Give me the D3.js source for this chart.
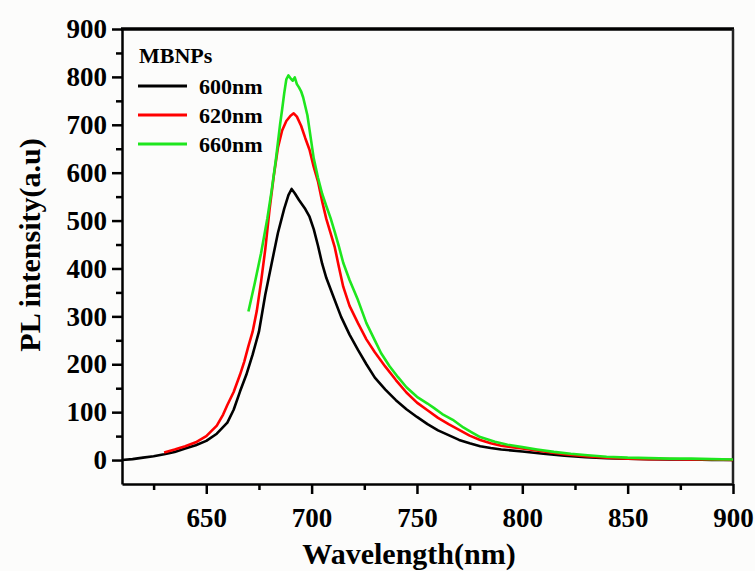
<!DOCTYPE html>
<html>
<head>
<meta charset="utf-8">
<script src="https://cdn.jsdelivr.net/npm/d3@7"></script>
<style>
  body { margin: 0; background: #fcfcfb; }
  text { font-family: "Liberation Serif", "Times New Roman", serif; font-weight: bold; }
</style>
</head>
<body>
<div id="chart"></div>
<script>
// PL spectra (wavelength nm, intensity a.u)
var wl600 = [610, 615, 620, 625, 630, 635, 640, 645, 650, 655, 660, 663, 666, 669, 672, 675, 678, 681, 684, 687, 689, 690.5, 692, 694, 697, 699, 701, 703, 705, 707, 710, 714, 718, 722, 726, 730, 735, 740, 745, 750, 755, 760, 765, 770, 775, 780, 785, 790, 800, 810, 820, 830, 840, 850, 860, 870, 880, 890, 900];
var pl600 = [0, 2, 5, 8, 12, 17, 24, 31, 40, 55, 78, 105, 143, 178, 220, 268, 345, 410, 474, 525, 553, 566, 557, 543, 524, 508, 482, 448, 410, 380, 345, 299, 262, 230, 200, 172, 147, 125, 106, 90, 75, 62, 52, 42, 35, 29, 25, 22, 18, 13, 9, 6, 4, 3, 2, 1, 1, 0, 0];

var wl620 = [630, 635, 640, 645, 650, 655, 658, 660, 663, 666, 668, 670, 672, 674, 676, 678, 680, 682, 684, 686, 688, 690, 691.5, 693, 695, 697, 699, 701, 703, 705, 707, 709, 711, 713, 715, 718, 722, 726, 730, 735, 740, 745, 750, 755, 760, 765, 770, 775, 780, 785, 790, 795, 800, 810, 820, 830, 840, 850, 860, 870, 880, 890, 900];
var pl620 = [16, 22, 29, 37, 50, 72, 95, 115, 142, 178, 205, 238, 268, 312, 372, 440, 522, 592, 652, 688, 708, 719, 724, 717, 698, 672, 648, 612, 582, 540, 503, 474, 444, 402, 362, 322, 286, 252, 225, 195, 167, 141, 120, 104, 88, 75, 63, 51, 42, 35, 30, 27, 24, 18, 12, 8, 5, 3, 2, 2, 1, 1, 0];

var wl660 = [670, 673, 676, 679, 681, 683, 685, 686, 687, 688, 689, 690, 691, 692, 693, 694, 695, 696, 698, 699, 701, 703, 705, 707, 709, 711, 713, 715, 718, 722, 726, 730, 733, 737, 741, 745, 750, 755, 758, 762, 767, 772, 776, 780, 787, 793, 800, 807, 815, 823, 831, 840, 850, 860, 870, 880, 890, 900];
var pl660 = [310, 369, 432, 505, 562, 626, 700, 732, 766, 795, 803, 797, 792, 799, 785, 778, 770, 757, 720, 690, 630, 590, 556, 530, 505, 476, 445, 412, 376, 334, 286, 250, 223, 196, 173, 152, 132, 118, 109, 96, 84, 68, 58, 48, 38, 32, 27, 22, 17, 13, 10, 7, 5, 4, 3, 3, 2, 1];

var seriesNames = ["600nm", "620nm", "660nm"];
var seriesColors = ["#000000", "#ff0000", "#1ee61e"];
var legendTitle = "MBNPs";

var xTicks = [650, 700, 750, 800, 850, 900];
var yTicks = [0, 100, 200, 300, 400, 500, 600, 700, 800, 900];

var svgWidth = 755;
var svgHeight = 571;

var margin = {
  top: 29,
  right: 22,
  bottom: 87,
  left: 122
};

var width = svgWidth - margin.left - margin.right;
var height = svgHeight - margin.top - margin.bottom;

var svg = d3.select("#chart")
  .append("svg")
  .attr("width", svgWidth)
  .attr("height", svgHeight);

var chartGroup = svg.append("g")
  .attr("transform", `translate(${margin.left}, ${margin.top})`);

var xLinearScale = d3.scaleLinear()
  .domain([610, 900])
  .range([0, width]);

var yLinearScale = d3.scaleLinear()
  .domain([-50, 900])
  .range([height, 0]);

// minor ticks first (no labels)
var xMinor = d3.range(625, 900, 50);
var yMinor = d3.range(-50, 900, 100).filter(d => d > -50);

chartGroup.append("g")
  .attr("transform", `translate(0, ${height})`)
  .call(d3.axisBottom(xLinearScale).tickValues(xMinor).tickSize(6).tickFormat(""))
  .call(g => g.select(".domain").remove())
  .call(g => g.selectAll("line").attr("stroke-width", 2.5));

chartGroup.append("g")
  .call(d3.axisLeft(yLinearScale).tickValues(yMinor).tickSize(6).tickFormat(""))
  .call(g => g.select(".domain").remove())
  .call(g => g.selectAll("line").attr("stroke-width", 2.5));

// major axes
var xAxis = chartGroup.append("g")
  .attr("transform", `translate(0, ${height})`)
  .call(d3.axisBottom(xLinearScale).tickValues(xTicks).tickSize(10).tickPadding(8).tickSizeOuter(0));

var yAxis = chartGroup.append("g")
  .call(d3.axisLeft(yLinearScale).tickValues(yTicks).tickSize(10).tickPadding(5).tickSizeOuter(0));

[xAxis, yAxis].forEach(function(ax) {
  ax.select(".domain").attr("stroke-width", 2.5);
  ax.selectAll(".tick line").attr("stroke-width", 2.5);
  ax.selectAll(".tick text")
    .attr("font-size", "27px")
    .attr("font-family", "Liberation Serif, Times New Roman, serif")
    .attr("font-weight", "bold")
    .attr("fill", "#000");
});
xAxis.selectAll(".tick text").attr("dy", "0.92em");

// top and right borders
chartGroup.append("line")
  .attr("x1", -1).attr("x2", width + 1)
  .attr("y1", 0).attr("y2", 0)
  .attr("stroke", "#000").attr("stroke-width", 3.5);
chartGroup.append("line")
  .attr("x1", width).attr("x2", width)
  .attr("y1", 0).attr("y2", height)
  .attr("stroke", "#222").attr("stroke-width", 2.5);

// curves
var allSeries = [
  { x: wl600, y: pl600 },
  { x: wl620, y: pl620 },
  { x: wl660, y: pl660 }
];

var line = d3.line()
  .x(d => xLinearScale(d[0]))
  .y(d => yLinearScale(d[1]))
  .curve(d3.curveLinear);

allSeries.forEach(function(s, i) {
  var pts = s.x.map((w, j) => [w, s.y[j]]);
  chartGroup.append("path")
    .datum(pts)
    .attr("fill", "none")
    .attr("stroke", seriesColors[i])
    .attr("stroke-width", 2.6)
    .attr("stroke-linejoin", "round")
    .attr("d", line);
});

// legend
var legend = chartGroup.append("g")
  .attr("transform", "translate(16, 0)");

legend.append("text")
  .attr("x", 1)
  .attr("y", 34)
  .attr("font-size", "22px")
  .text(legendTitle);

seriesNames.forEach(function(name, i) {
  var yy = 57 + i * 29;
  legend.append("line")
    .attr("x1", 0).attr("x2", 49)
    .attr("y1", yy).attr("y2", yy)
    .attr("stroke", seriesColors[i])
    .attr("stroke-width", 3);
  legend.append("text")
    .attr("x", 61)
    .attr("y", yy + 8)
    .attr("font-size", "22px")
    .text(name);
});

// axis titles
svg.append("text")
  .attr("x", 409)
  .attr("y", 564)
  .attr("text-anchor", "middle")
  .attr("font-size", "30px")
  .text("Wavelength(nm)");

svg.append("text")
  .attr("transform", "rotate(-90)")
  .attr("x", -245)
  .attr("y", 40)
  .attr("text-anchor", "middle")
  .attr("font-size", "30px")
  .text("PL intensity(a.u)");
</script>
</body>
</html>
